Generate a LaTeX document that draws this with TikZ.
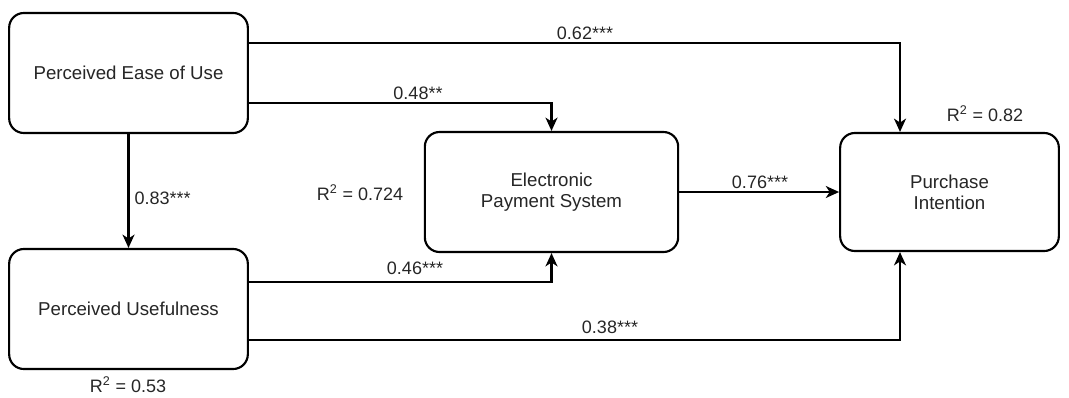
\documentclass[tikz,border=0pt]{standalone}
\usepackage{fontspec}
\setmainfont{Liberation Sans}
\usepackage{xcolor}
\definecolor{ink}{HTML}{000000}
\definecolor{txt}{HTML}{262626}
\usetikzlibrary{arrows.meta,positioning,calc}
\tikzset{
  >={Stealth[length=10pt,width=9pt,inset=3pt]},
  construct/.style={draw=ink,fill=white,line width=1.6pt,rounded corners=11pt,
                  text=txt,font=\fontsize{14}{16}\selectfont,align=center,
                  minimum width=179pt,minimum height=90pt,inner sep=2pt},
  coef/.style   ={text=txt,font=\fontsize{13.5}{16}\selectfont,inner sep=1pt},
  link/.style   ={->,draw=ink,line width=1.6pt},
}

\begin{document}
\begin{tikzpicture}[x=0.75pt,y=-0.75pt]
\useasboundingbox (0,0) rectangle (1069,397);
% constructs
\node[construct] (peou) at (128.5,73) {Perceived Ease of Use};
\node[construct] (pu) at (128.5,309) {Perceived Usefulness};
\node[construct,minimum width=190pt] (eps) at (551.5,192) {Electronic\\Payment System};
\node[construct,minimum width=164pt,minimum height=88.5pt] (pi) at (949.5,192) {Purchase\\Intention};
% paths
\draw[link] ($(peou.east)+(0,-30)$) -| ($(pi.north)+(-49.5,0)$);
\draw[link] ($(peou.east)+(0,30)$) -| (eps.north);
\draw[link] (peou.south) -- (pu.north);
\draw[link] ($(pu.east)+(0,-27)$) -| (eps.south);
\draw[link] ($(pu.east)+(0,31)$) -| ($(pi.south)+(-49.5,0)$);
\draw[link] (eps.east) -- (pi.west);
% coefficients
\node[coef] (c62) at (585,33) {0.62***};
\node[coef] (c48) at (418,93) {0.48**};
\node[coef,anchor=west] (c83) at (133,198) {0.83***};
\node[coef] (c76) at (760,182) {0.76***};
\node[coef] (c46) at (415,268) {0.46***};
\node[coef] (c38) at (610,327) {0.38***};
% explained variance
\node[coef] (r724) at (360,193) {R\textsuperscript{2} = 0.724};
\node[coef] (r53) at (128,385) {R\textsuperscript{2} = 0.53};
\node[coef] (r82) at (985,114) {R\textsuperscript{2} = 0.82};
\end{tikzpicture}
\end{document}
